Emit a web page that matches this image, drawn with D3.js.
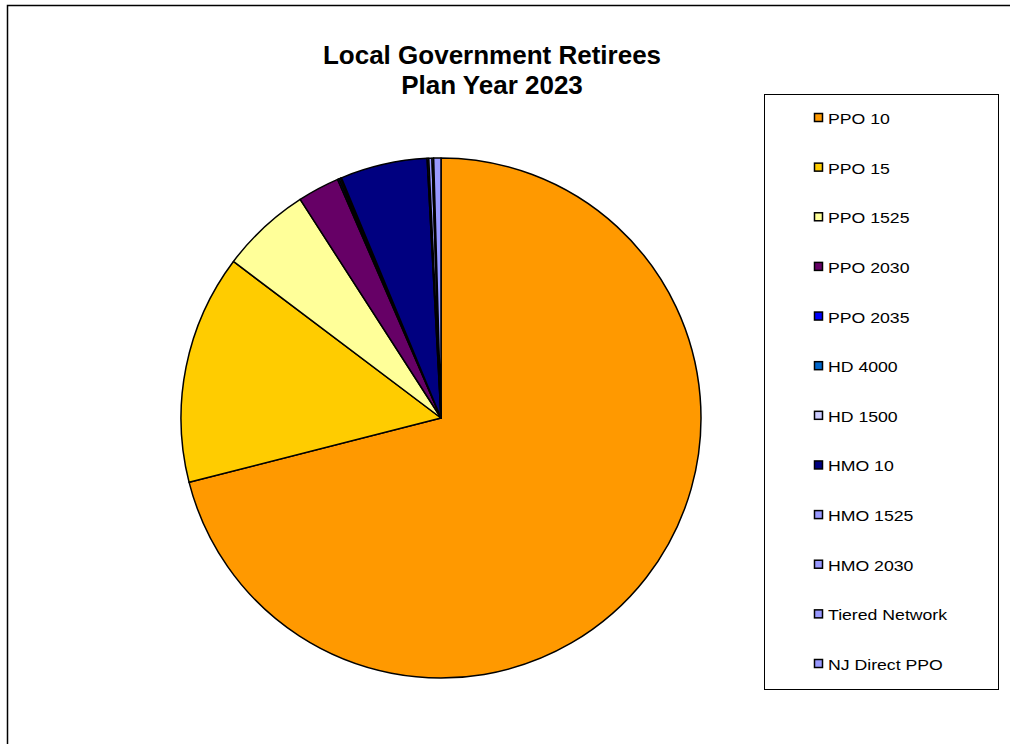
<!DOCTYPE html>
<html><head><meta charset="utf-8">
<script src="https://cdn.jsdelivr.net/npm/d3@7"></script>
<style>body{margin:0;background:#fff}svg{display:block}</style>
</head><body>
<script>
const categories = ["PPO 10","PPO 15","PPO 1525","PPO 2030","PPO 2035","HD 4000","HD 1500","HMO 10","HMO 1525","HMO 2030","Tiered Network","NJ Direct PPO"];
const values = [70.95, 14.25, 5.6, 2.6, 0.1, 0.1, 0.05, 5.4, 0.1, 0.2, 0.1, 0.45];
const colors = ["#FF9900","#FFCC00","#FFFF99","#660066","#0000FF","#0066CC","#CCCCFF","#000080","#9999FF","#9999FF","#9999FF","#9999FF"];
const titleLines = ["Local Government Retirees","Plan Year 2023"];

const W = 1015, H = 744;
const font = "'Liberation Sans', Arial, sans-serif";
const svg = d3.select("body").append("svg").attr("width", W).attr("height", H);
svg.append("path").attr("d", `M7.5,${H}V5.5H1010`).attr("fill","none").attr("stroke","#000").attr("stroke-width",1.5);

const t = svg.append("text").attr("text-anchor","middle").attr("font-family",font)
  .attr("font-weight","bold").attr("font-size",26);
titleLines.forEach((l,i)=> t.append("tspan").attr("x",492).attr("y",64+i*29.5).text(l));

const cx = 441, cy = 418, r = 260;
const pie = d3.pie().sort(null).value(d=>d);
const arc = d3.arc().innerRadius(0).outerRadius(r);
svg.append("g").attr("transform",`translate(${cx},${cy})`)
  .selectAll("path").data(pie(values)).join("path")
  .attr("d",arc).attr("fill",(d,i)=>colors[i]).attr("stroke","#000").attr("stroke-width",1.5).attr("stroke-linejoin","round");

const lg = svg.append("g");
lg.append("rect").attr("x",764.5).attr("y",94.5).attr("width",234).attr("height",595).attr("fill","#fff").attr("stroke","#000").attr("stroke-width",1);
const y = d3.scalePoint().domain(categories).range([118, 664]);
categories.forEach((c,i)=>{
  const yy = y(c);
  lg.append("rect").attr("x",814.5).attr("y",yy-4.5).attr("width",8).attr("height",8).attr("fill",colors[i]).attr("stroke","#000").attr("stroke-width",1.5);
  lg.append("text").attr("transform",`translate(828,${yy+6}) scale(1.14,1)`).attr("font-family",font).attr("font-size",15.5).text(c);
});
</script>
</body></html>
